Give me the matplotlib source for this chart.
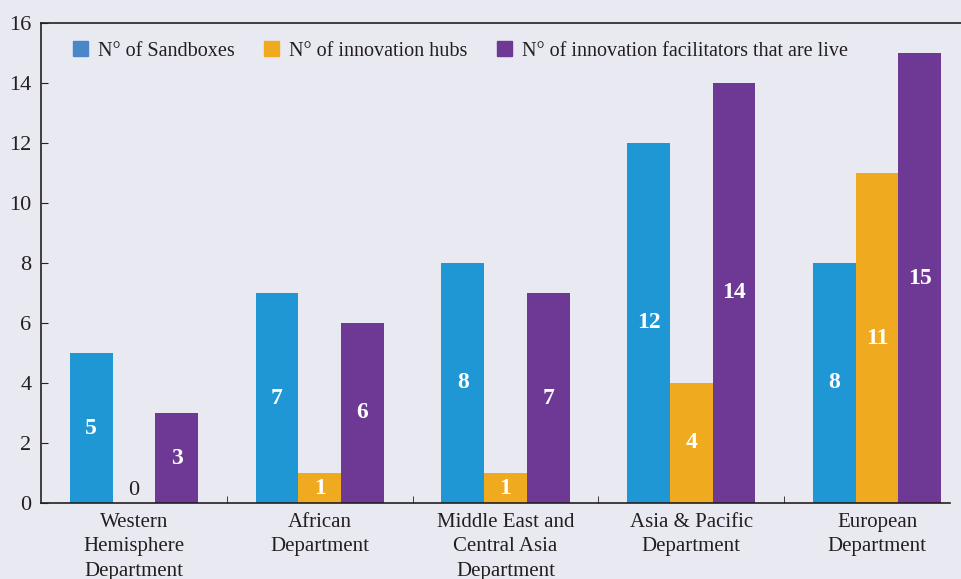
import matplotlib
matplotlib.use("Agg")
import matplotlib.pyplot as plt
from matplotlib.patches import Patch
import numpy as np

# data
departments = ["Western\nHemisphere\nDepartment", "African\nDepartment",
               "Middle East and\nCentral Asia\nDepartment", "Asia & Pacific\nDepartment",
               "European\nDepartment"]
sandboxes = [5, 7, 8, 12, 8]
hubs = [0, 1, 1, 4, 11]
live = [3, 6, 7, 14, 15]
series_names = ["N° of Sandboxes", "N° of innovation hubs",
                "N° of innovation facilitators that are live"]

BG = "#E9E9F2"
TXT = "#231F20"
colors = ["#1F97D4", "#F0AA20", "#6E3994"]
legend_colors = ["#4A87C8", "#F0AA20", "#6E3994"]

plt.rcParams["font.family"] = ["Liberation Serif", "DejaVu Serif"]
plt.rcParams["font.size"] = 15

fig = plt.figure(figsize=(9.61, 5.79), dpi=100, facecolor=BG)
ax = fig.add_axes([41 / 961, 76 / 579, 929 / 961, 480 / 579])
ax.set_facecolor(BG)

x = np.arange(len(departments))
w = 0.23
for i, vals in enumerate([sandboxes, hubs, live]):
    pos = x + (i - 1) * w
    ax.bar(pos, vals, width=w, color=colors[i], zorder=2)
    for p, v in zip(pos, vals):
        if v == 0:
            ax.text(p, 0.42, "0", ha="center", va="center", color=TXT, fontsize=16)
        else:
            ax.text(p, v / 2, str(v), ha="center", va="center", color="white",
                    fontsize=17, fontweight="bold")

ax.set_xlim(-0.5, 4.5)
ax.set_ylim(0, 16)
ax.set_yticks(range(0, 17, 2))
ax.set_xticks(x)
ax.set_xticklabels(departments, color=TXT, fontsize=15, linespacing=1.4)
ax.set_xticks(np.arange(0.5, 4, 1), minor=True)
ax.tick_params(axis="x", which="major", length=0, pad=7)
ax.tick_params(axis="x", which="minor", direction="in", length=5, color=TXT)
ax.tick_params(axis="y", direction="in", length=5, colors=TXT, labelsize=16, pad=7)
for s in ["left", "top", "bottom"]:
    ax.spines[s].set_color(TXT)
    ax.spines[s].set_linewidth(1.2)
ax.spines["right"].set_visible(False)
ax.spines["bottom"].set_bounds(-0.5, 4.39)

handles = [Patch(color=c) for c in legend_colors]
ax.legend(handles, series_names, ncol=3, frameon=False, loc="upper left",
          bbox_to_anchor=(0.015, 1.0), handlelength=0.75, handleheight=0.75,
          handletextpad=0.5, columnspacing=1.45, fontsize=14.5, labelcolor=TXT)

fig.savefig("out.png", dpi=100, facecolor=BG)
